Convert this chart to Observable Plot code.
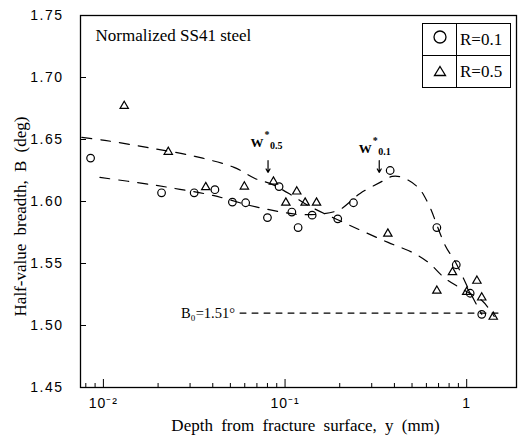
<!DOCTYPE html>
<html><head><meta charset="utf-8">
<script src="https://cdn.jsdelivr.net/npm/d3@7"></script>
<script src="https://cdn.jsdelivr.net/npm/@observablehq/plot@0.6"></script>
<style>
body{margin:0;background:#fff;}
#wrap{position:relative;width:518px;height:440px;}
#legend{position:absolute;left:422px;top:23px;border-collapse:collapse;font-family:"Liberation Serif",serif;font-size:17px;background:#fff;}
#legend td{border:1.3px solid #000;height:31px;padding:0;}
#legend td.sym{width:33px;text-align:center;}
#legend td.lab{width:50px;padding-left:3px;}
</style></head><body><div id="wrap"></div>
<script>
// ---- data ----
const r01X = [0.0085,0.0209,0.0316,0.0411,0.0513,0.0607,0.080,0.0927,0.109,0.118,0.141,0.195,0.238,0.379,0.685,0.876,1.045,1.21];
const r01Y = [1.635,1.607,1.607,1.6095,1.5995,1.599,1.587,1.612,1.5915,1.579,1.589,1.586,1.599,1.625,1.579,1.549,1.526,1.509];
const r05X = [0.01302,0.02275,0.0366,0.0597,0.0863,0.101,0.116,0.129,0.149,0.368,0.685,0.835,1.0,1.138,1.21,1.40];
const r05Y = [1.677,1.640,1.6115,1.612,1.616,1.599,1.608,1.599,1.599,1.574,1.528,1.543,1.527,1.536,1.5225,1.507];
// hand-drawn trend curves
const upperX = [0.00761,0.01019,0.01737,0.0319,0.0524,0.0683,0.0848,0.1093,0.1339,0.228,0.369,0.501,0.614,0.761,0.981,1.217,1.417];
const upperY = [1.6517,1.6493,1.6436,1.6364,1.6275,1.6186,1.6138,1.6049,1.5968,1.5807,1.567,1.559,1.551,1.538,1.528,1.520,1.5073];
const lowerX = [0.00957,0.01804,0.0264,0.0401,0.0641,0.0915,0.1179,0.16,0.2,0.2589,0.3337,0.3887,0.4411,0.5404,0.6136,0.7613,0.875,1.045,1.21];
const lowerY = [1.6194,1.6138,1.6098,1.6049,1.5968,1.592,1.5896,1.590,1.5935,1.6065,1.6154,1.6202,1.6194,1.6113,1.5984,1.5646,1.55,1.5267,1.509];
const b0Value = 1.51;
const b0Range = [0.0565, 1.5];
const yTicks = [1.45,1.50,1.55,1.60,1.65,1.70,1.75];
const xMajor = [0.01,0.1,1];
const xMajorLabels = ["10⁻²","10⁻¹","1"];
const xMinor = [0.008,0.009,0.02,0.03,0.04,0.05,0.06,0.07,0.08,0.09,0.2,0.3,0.4,0.5,0.6,0.7,0.8,0.9];
const arrowX = [0.0806, 0.33];
const arrowY1 = [1.633, 1.633];
const arrowY2 = [1.6235, 1.6235];
const wX = [0.0700, 0.2760];
const wY = [1.6472, 1.6424];
const wSub = ["0.5", "0.1"];

const W=518,H=440,mL=80,mR=2,mT=15,mB=53;
const fw=W-mL-mR, fh=H-mT-mB;
const r01 = r01X.map((x,i)=>({x,y:r01Y[i]}));
const r05 = r05X.map((x,i)=>({x,y:r05Y[i]}));
const upper = upperX.map((x,i)=>({x,y:upperY[i]}));
const lower = lowerX.map((x,i)=>({x,y:lowerY[i]}));
const b0 = b0Range.map(x=>({x,y:b0Value}));
const arrows = arrowX.map((x,i)=>({x,y1:arrowY1[i],y2:arrowY2[i]}));
const ws = wX.map((x,i)=>({x,y:wY[i],sub:wSub[i]}));
const labMap = new Map(xMajor.map((d,i)=>[d,xMajorLabels[i]]));
const serif = "Liberation Serif, Times New Roman, serif";
const sans = "Liberation Sans, Arial, sans-serif";

const svg = Plot.plot({
  width:W,height:H,marginLeft:mL,marginRight:mR,marginTop:mT,marginBottom:mB,
  x:{type:"log",domain:[0.00748,1.88]},
  y:{domain:[1.45,1.75]},
  style:{background:"#fff",color:"#000"},
  marks:[
    Plot.frame({stroke:"#000",strokeWidth:1.3}),
    Plot.axisY(yTicks,{tickSize:0,tickPadding:17,tickFormat:d=>d.toFixed(2),fontSize:14,fontFamily:sans,label:null}),
    Plot.axisX(xMajor,{tickSize:0,tickPadding:11,tickFormat:d=>labMap.get(d),fontSize:14,fontFamily:sans,label:null}),
    Plot.ruleY(yTicks.slice(1,-1),{y:d=>d,insetRight:fw-6,stroke:"#000"}),
    Plot.ruleX(xMajor,{x:d=>d,insetTop:fh-8,stroke:"#000"}),
    Plot.ruleX(xMinor,{x:d=>d,insetTop:fh-4,stroke:"#000"}),
    Plot.line(upper,{x:"x",y:"y",curve:"catmull-rom",stroke:"#000",strokeWidth:1.2,strokeDasharray:"10,9"}),
    Plot.line(lower,{x:"x",y:"y",curve:"catmull-rom",stroke:"#000",strokeWidth:1.2,strokeDasharray:"10,9"}),
    Plot.line(b0,{x:"x",y:"y",stroke:"#000",strokeWidth:1.1,strokeDasharray:"6,6"}),
    Plot.text(["B₀=1.51°"],{x:b0Range[0],y:b0Value,textAnchor:"end",dx:-5,fontSize:14.5,fontFamily:serif}),
    Plot.dot(r01,{x:"x",y:"y",symbol:"circle",r:3.8,stroke:"#000",fill:"none",strokeWidth:1.2}),
    Plot.dot(r05,{x:"x",y:"y",symbol:"triangle",r:3.1,stroke:"#000",fill:"none",strokeWidth:1.2}),
    Plot.arrow(arrows,{x:"x",y1:"y1",y2:"y2",stroke:"#000",strokeWidth:1.2,headLength:5}),
    Plot.text(ws,{x:"x",y:"y",text:()=>"W",fontSize:13,fontWeight:"bold",fontFamily:serif}),
    Plot.text(ws,{x:"x",y:"y",text:()=>"*",dx:10,dy:-8,fontSize:10,fontWeight:"bold",fontFamily:serif}),
    Plot.text(ws,{x:"x",y:"y",text:"sub",dx:13,dy:3,textAnchor:"start",fontSize:10,fontWeight:"bold",fontFamily:serif}),
    Plot.text(["Normalized SS41 steel"],{frameAnchor:"top-left",dx:15,dy:13,lineAnchor:"top",textAnchor:"start",fontSize:17,fontFamily:serif}),
    Plot.text(["Depth from fracture surface, y (mm)"],{frameAnchor:"bottom",dx:7,dy:38,lineAnchor:"middle",textAnchor:"middle",fontSize:17,fontFamily:serif}),
    Plot.text(["Half-value breadth, B (deg)"],{frameAnchor:"left",rotate:-90,dx:-60,dy:15,lineAnchor:"middle",textAnchor:"middle",fontSize:17,fontFamily:serif})
  ]
});
const yl = svg.querySelector('g[aria-label="y-axis tick label"]'); if (yl) yl.style.letterSpacing="1.5px";
const xl = svg.querySelector('g[aria-label="x-axis tick label"]'); if (xl) xl.style.letterSpacing="1px";
svg.querySelectorAll("text").forEach(t=>{
  if (t.textContent.startsWith("Depth")||t.textContent.startsWith("Half")) t.style.wordSpacing="4px";
});
const wrap = document.getElementById("wrap");
wrap.appendChild(svg);
const leg = document.createElement("table");
leg.id="legend";
leg.innerHTML = `<tr><td class="sym"><svg width="16" height="16"><circle cx="8" cy="8" r="6" fill="none" stroke="#000" stroke-width="1.3"/></svg></td><td class="lab">R=0.1</td></tr>
<tr><td class="sym"><svg width="14" height="12"><path d="M7,1.5L12.5,10.5L1.5,10.5Z" fill="none" stroke="#000" stroke-width="1.3"/></svg></td><td class="lab">R=0.5</td></tr>`;
wrap.appendChild(leg);
</script></body></html>
